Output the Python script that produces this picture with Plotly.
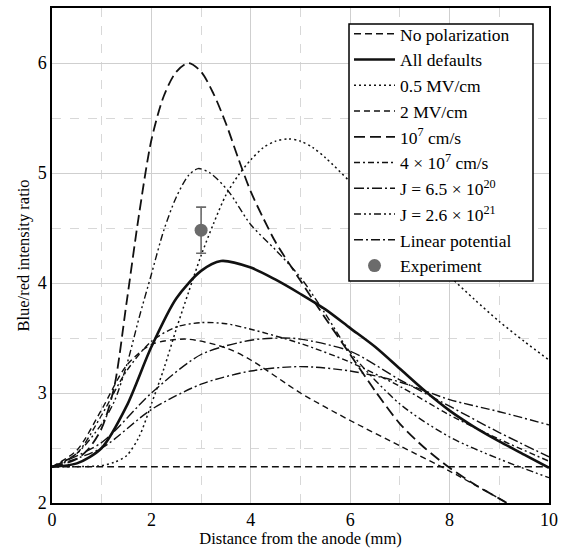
import plotly.graph_objects as go

# ---------------- data ----------------
x_nopol = [0, 2, 4, 6, 8, 10]
y_nopol = [2.33, 2.33, 2.33, 2.33, 2.33, 2.33]

x_def = [0, 0.5, 1, 1.5, 2, 2.5, 3, 3.4, 4, 4.5, 5, 5.5, 6, 6.5, 7, 7.5, 8, 8.5, 9, 9.5, 10]
y_def = [2.33, 2.36, 2.5, 2.88, 3.42, 3.86, 4.11, 4.2, 4.14, 4.03, 3.9, 3.76, 3.59, 3.42, 3.22, 3.02, 2.84, 2.69, 2.56, 2.44, 2.32]

x_05 = [0, 1, 1.25, 1.5, 1.75, 2, 2.25, 2.5, 2.75, 3, 3.25, 3.5, 3.75, 4, 4.25, 4.5, 4.75, 5, 5.25, 5.5, 6, 6.5, 7, 7.5, 8, 8.5, 9, 9.5, 10]
y_05 = [2.33, 2.34, 2.37, 2.43, 2.6, 2.9, 3.22, 3.58, 3.92, 4.25, 4.54, 4.8, 4.98, 5.12, 5.23, 5.29, 5.31, 5.29, 5.23, 5.14, 4.92, 4.7, 4.48, 4.26, 4.06, 3.85, 3.65, 3.47, 3.3]

x_2mv = [0, 0.5, 1, 1.5, 2, 2.7, 3.5, 4, 5, 6, 7, 8, 9, 9.15]
y_2mv = [2.33, 2.48, 2.85, 3.25, 3.44, 3.49, 3.41, 3.3, 3.0, 2.75, 2.52, 2.29, 2.04, 2.0]

x_v1 = [0, 0.5, 0.75, 1, 1.25, 1.5, 1.75, 2, 2.25, 2.5, 2.75, 3, 3.25, 3.5, 3.75, 4, 4.25, 4.5, 5, 5.5, 6, 6.5, 7, 7.5, 8, 8.5, 9, 9.15]
y_v1 = [2.33, 2.4, 2.5, 2.68, 3.05, 3.82, 4.62, 5.3, 5.7, 5.92, 6.0, 5.92, 5.72, 5.45, 5.13, 4.83, 4.59, 4.37, 4.02, 3.68, 3.35, 3.02, 2.72, 2.5, 2.32, 2.17, 2.04, 2.0]

x_v4 = [0, 0.5, 1, 1.5, 2, 2.5, 3, 3.5, 4, 5, 6, 7, 8, 9, 10]
y_v4 = [2.33, 2.45, 2.8, 3.2, 3.47, 3.6, 3.64, 3.63, 3.58, 3.45, 3.28, 3.06, 2.8, 2.58, 2.38]

x_j65 = [0, 1, 2, 3, 4, 4.65, 5, 6, 7, 8, 9, 10]
y_j65 = [2.33, 2.55, 3.0, 3.35, 3.48, 3.5, 3.49, 3.38, 3.12, 2.88, 2.64, 2.42]

x_j26 = [0, 0.5, 1, 1.25, 1.5, 1.75, 2, 2.25, 2.5, 2.75, 2.94, 3.18, 3.54, 4, 4.5, 5, 5.5, 6, 7, 8, 9, 10]
y_j26 = [2.33, 2.45, 2.72, 2.92, 3.25, 3.68, 4.08, 4.48, 4.78, 4.98, 5.04, 5.0, 4.84, 4.53, 4.3, 4.05, 3.72, 3.37, 2.9, 2.6, 2.4, 2.23]

x_lin = [0, 1, 2, 3, 4, 5, 6, 7, 8, 9, 10]
y_lin = [2.33, 2.5, 2.85, 3.08, 3.2, 3.24, 3.2, 3.1, 2.94, 2.83, 2.71]

x_exp = [3.0]
y_exp = [4.48]
err_exp = [0.21]

FONT = "Liberation Serif"

fig = go.Figure()

def add_line(x, y, name, dash, width=1.4, color="#111111"):
    fig.add_trace(go.Scatter(x=x, y=y, mode="lines", name=name,
                             line=dict(color=color, width=width, dash=dash, shape="spline", smoothing=0.8)))

add_line(x_nopol, y_nopol, "No polarization", "7px,4px", 1.6)
add_line(x_def, y_def, "All defaults", "solid", 2.6)
add_line(x_05, y_05, "0.5 MV/cm", "2px,3px", 1.5)
add_line(x_2mv, y_2mv, "2 MV/cm", "6px,4px", 1.4)
add_line(x_v1, y_v1, "10<sup>7</sup> cm/s", "11px,5px", 1.8)
add_line(x_v4, y_v4, "4 × 10<sup>7</sup> cm/s", "6px,3px,2px,3px", 1.4)
add_line(x_j65, y_j65, "J = 6.5 × 10<sup>20</sup>", "10px,3px,2px,3px", 1.4)
add_line(x_j26, y_j26, "J = 2.6 × 10<sup>21</sup>", "7px,3px,2px,3px,2px,3px", 1.4)
add_line(x_lin, y_lin, "Linear potential", "9px,3px,2px,3px", 1.4)

fig.add_trace(go.Scatter(x=x_exp, y=y_exp, mode="markers", name="Experiment",
                         marker=dict(color="#6b6b6b", size=13),
                         error_y=dict(type="data", array=err_exp, color="#6b6b6b",
                                      thickness=1.6, width=5)))

# legend box (white, black border) covering the curves beneath it
fig.add_shape(type="rect", xref="paper", yref="paper",
              x0=0.5976, x1=0.9678, y0=0.4487, y1=0.9678,
              fillcolor="white", line=dict(color="black", width=1.5), layer="above")

fig.update_layout(
    width=571, height=548,
    margin=dict(l=52, r=22, t=6, b=45),
    paper_bgcolor="white", plot_bgcolor="white",
    font=dict(family=FONT, size=17, color="black"),
    showlegend=True,
    legend=dict(x=0.5976, y=0.984, xanchor="left", yanchor="top",
                bgcolor="rgba(0,0,0,0)", borderwidth=0,
                font=dict(family=FONT, size=17.5, color="black"),
                tracegroupgap=0, itemwidth=41),
)

fig.update_xaxes(range=[0, 10], tickvals=[0, 2, 4, 6, 8, 10],
                 showline=True, linecolor="black", linewidth=1.5, mirror=True,
                 showgrid=True, gridcolor="#cfcfcf", gridwidth=1, zeroline=False,
                 ticks="", tickfont=dict(family=FONT, size=18),
                 minor=dict(dtick=1, showgrid=True, gridcolor="#d8d8d8", griddash="dash", gridwidth=1),
                 title=dict(text="Distance from the anode (mm)", font=dict(family=FONT, size=16.5), standoff=0))
fig.update_yaxes(range=[2, 6.5], tickvals=[2, 3, 4, 5, 6],
                 showline=True, linecolor="black", linewidth=1.5, mirror=True,
                 showgrid=True, gridcolor="#cfcfcf", gridwidth=1, zeroline=False,
                 ticks="", tickfont=dict(family=FONT, size=18),
                 minor=dict(dtick=0.5, showgrid=True, gridcolor="#d8d8d8", griddash="dash", gridwidth=1),
                 title=dict(text="Blue/red intensity ratio", font=dict(family=FONT, size=16.5), standoff=4))

fig.write_html("out.html")
